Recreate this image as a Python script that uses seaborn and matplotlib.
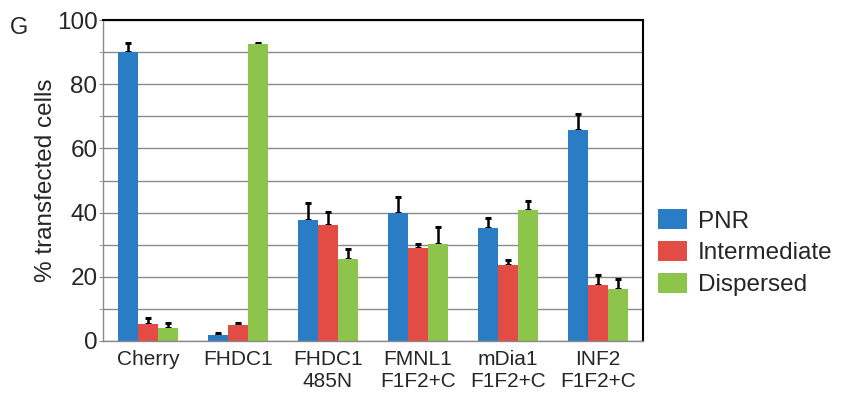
import pandas as pd
import matplotlib
matplotlib.use("Agg")
import matplotlib.pyplot as plt
import seaborn as sns

# Data
categories = ["Cherry", "FHDC1", "FHDC1\n485N", "FMNL1\nF1F2+C", "mDia1\nF1F2+C", "INF2\nF1F2+C"]
series = ["PNR", "Intermediate", "Dispersed"]
pnr = [90.0, 2.0, 37.7, 40.0, 35.1, 65.7]
intermediate = [5.2, 5.0, 36.1, 29.0, 23.6, 17.5]
dispersed = [4.0, 92.5, 25.5, 30.2, 40.8, 16.2]
pnr_err = [3.0, 0.6, 5.2, 4.8, 3.3, 5.2]
intermediate_err = [2.0, 0.6, 4.1, 1.2, 1.6, 3.1]
dispersed_err = [1.6, 0.4, 3.2, 5.4, 2.9, 3.0]
colors = ["#2a7dc5", "#e34b45", "#8cc44c"]

df = pd.DataFrame({
    "group": categories * 3,
    "state": [s for s in series for _ in categories],
    "value": pnr + intermediate + dispersed,
    "err": pnr_err + intermediate_err + dispersed_err,
})

sns.set_style("white")
plt.rcParams["font.family"] = ["Liberation Sans", "DejaVu Sans"]

fig = plt.figure(figsize=(8.41, 3.96), dpi=100)
ax = fig.add_axes([0.1225, 0.139, 0.642, 0.810])

sns.barplot(data=df, x="group", y="value", hue="state", hue_order=series,
            palette=colors, width=0.67, saturation=1, errorbar=None,
            linewidth=0, ax=ax)

# one-sided error bars, drawn under the bars so only the upper part shows
bar_containers = list(ax.containers)
for cont, s in zip(bar_containers, series):
    sub = df[df["state"] == s]
    xs = [p.get_x() + p.get_width() / 2 for p in cont.patches]
    ax.errorbar(xs, sub["value"], yerr=[[0] * len(xs), sub["err"]], fmt="none",
                ecolor="black", elinewidth=1.8, capsize=2, capthick=2.2, zorder=0.9)
for cont in bar_containers:
    for p in cont.patches:
        p.set_zorder(1)

ax.set_ylim(0, 100)
ax.set_xlim(-0.5, 5.5)
ax.set_yticks(range(0, 101, 20))
ax.set_yticks(range(0, 101, 10), minor=True)
ax.yaxis.grid(True, which="both", color="#8a8a8a", linewidth=1, zorder=0)
ax.set_axisbelow(True)
ax.tick_params(axis="y", which="both", left=True, length=3, color="#8a8a8a", labelsize=17.5, pad=1)
ax.tick_params(axis="x", bottom=False, labelsize=15, pad=3)
ax.set_xlabel("")
ax.set_ylabel("% transfected cells", fontsize=17.5, labelpad=0)

for side in ["left", "bottom"]:
    ax.spines[side].set_color("#8a8a8a")
    ax.spines[side].set_linewidth(1)
for side in ["top", "right"]:
    ax.spines[side].set_visible(True)
    ax.spines[side].set_color("black")
    ax.spines[side].set_linewidth(1.5)

leg = ax.legend(loc="center left", bbox_to_anchor=(1.01, 0.275), frameon=False,
                fontsize=17.5, handlelength=1.2, handleheight=0.9, labelspacing=0.35,
                handletextpad=0.45, borderaxespad=0)

fig.text(0.012, 0.915, "G", fontsize=17)

plt.savefig("out.png", dpi=100)
